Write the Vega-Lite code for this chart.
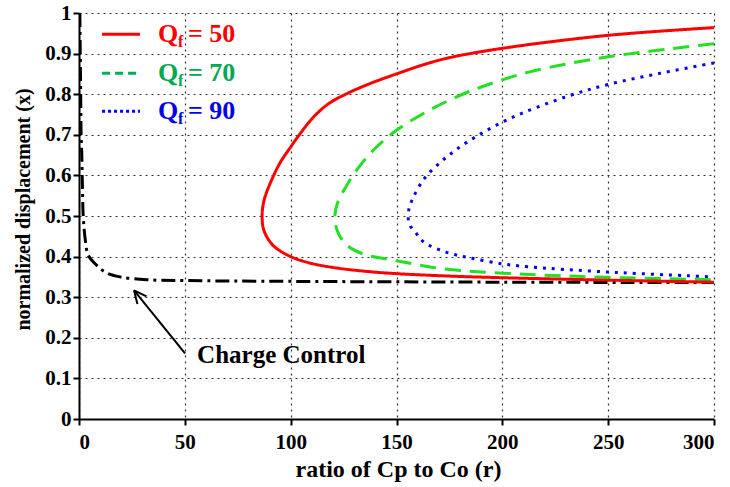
{
  "$schema": "https://vega.github.io/schema/vega-lite/v6.json",
  "autosize": "none",
  "width": 635,
  "height": 406,
  "padding": {"left": 79, "top": 13, "right": 16, "bottom": 68},
  "background": "white",
  "config": {
    "view": {"stroke": null},
    "axis": {
      "labelFont": "Liberation Serif",
      "labelFontWeight": "bold",
      "labelFontSize": 21,
      "labelColor": "black",
      "titleFont": "Liberation Serif",
      "titleFontWeight": "bold",
      "titleColor": "black",
      "domainColor": "black",
      "domainWidth": 2,
      "tickColor": "black",
      "tickWidth": 2,
      "tickSize": 6,
      "gridColor": "#333333",
      "gridDash": [2, 4],
      "gridWidth": 1.2
    }
  },
  "layer": [
    {
      "data": {
        "values": [
          {"s": "CC", "i": 1, "r": 0.4, "x": 1.0},
          {"s": "CC", "i": 2, "r": 0.6, "x": 0.9},
          {"s": "CC", "i": 3, "r": 0.8, "x": 0.8},
          {"s": "CC", "i": 4, "r": 1.0, "x": 0.7},
          {"s": "CC", "i": 5, "r": 1.3, "x": 0.654},
          {"s": "CC", "i": 6, "r": 1.6, "x": 0.58},
          {"s": "CC", "i": 7, "r": 2.0, "x": 0.5},
          {"s": "CC", "i": 8, "r": 3.0, "x": 0.44},
          {"s": "CC", "i": 9, "r": 4.4, "x": 0.403},
          {"s": "CC", "i": 10, "r": 8.3, "x": 0.379},
          {"s": "CC", "i": 11, "r": 13, "x": 0.36},
          {"s": "CC", "i": 12, "r": 19.4, "x": 0.35},
          {"s": "CC", "i": 13, "r": 32, "x": 0.343},
          {"s": "CC", "i": 14, "r": 50, "x": 0.341},
          {"s": "CC", "i": 15, "r": 100, "x": 0.339},
          {"s": "CC", "i": 16, "r": 200, "x": 0.337},
          {"s": "CC", "i": 17, "r": 300, "x": 0.336},

          {"s": "Q90", "i": 1, "r": 300, "x": 0.877},
          {"s": "Q90", "i": 2, "r": 275, "x": 0.852},
          {"s": "Q90", "i": 3, "r": 250, "x": 0.824},
          {"s": "Q90", "i": 4, "r": 232, "x": 0.797},
          {"s": "Q90", "i": 5, "r": 210.6, "x": 0.756},
          {"s": "Q90", "i": 6, "r": 200.3, "x": 0.732},
          {"s": "Q90", "i": 7, "r": 190, "x": 0.703},
          {"s": "Q90", "i": 8, "r": 180.5, "x": 0.672},
          {"s": "Q90", "i": 9, "r": 171.8, "x": 0.637},
          {"s": "Q90", "i": 10, "r": 163.1, "x": 0.592},
          {"s": "Q90", "i": 11, "r": 157.6, "x": 0.542},
          {"s": "Q90", "i": 12, "r": 155.7, "x": 0.512},
          {"s": "Q90", "i": 13, "r": 156, "x": 0.481},
          {"s": "Q90", "i": 14, "r": 159.2, "x": 0.458},
          {"s": "Q90", "i": 15, "r": 163.1, "x": 0.435},
          {"s": "Q90", "i": 16, "r": 173.4, "x": 0.411},
          {"s": "Q90", "i": 17, "r": 184.5, "x": 0.397},
          {"s": "Q90", "i": 18, "r": 200.3, "x": 0.382},
          {"s": "Q90", "i": 19, "r": 212.2, "x": 0.375},
          {"s": "Q90", "i": 20, "r": 250, "x": 0.362},
          {"s": "Q90", "i": 21, "r": 300, "x": 0.35},

          {"s": "Q70", "i": 1, "r": 300, "x": 0.924},
          {"s": "Q70", "i": 2, "r": 250, "x": 0.892},
          {"s": "Q70", "i": 3, "r": 213, "x": 0.855},
          {"s": "Q70", "i": 4, "r": 192.4, "x": 0.822},
          {"s": "Q70", "i": 5, "r": 178.2, "x": 0.793},
          {"s": "Q70", "i": 6, "r": 163.9, "x": 0.756},
          {"s": "Q70", "i": 7, "r": 150, "x": 0.711},
          {"s": "Q70", "i": 8, "r": 140.2, "x": 0.668},
          {"s": "Q70", "i": 9, "r": 132.3, "x": 0.621},
          {"s": "Q70", "i": 10, "r": 126, "x": 0.571},
          {"s": "Q70", "i": 11, "r": 122, "x": 0.53},
          {"s": "Q70", "i": 12, "r": 120.9, "x": 0.5},
          {"s": "Q70", "i": 13, "r": 122, "x": 0.464},
          {"s": "Q70", "i": 14, "r": 126, "x": 0.431},
          {"s": "Q70", "i": 15, "r": 133.9, "x": 0.407},
          {"s": "Q70", "i": 16, "r": 150, "x": 0.39},
          {"s": "Q70", "i": 17, "r": 171.8, "x": 0.37},
          {"s": "Q70", "i": 18, "r": 208.2, "x": 0.357},
          {"s": "Q70", "i": 19, "r": 250, "x": 0.349},
          {"s": "Q70", "i": 20, "r": 300, "x": 0.343},

          {"s": "Q50", "i": 1, "r": 300, "x": 0.964},
          {"s": "Q50", "i": 2, "r": 250, "x": 0.945},
          {"s": "Q50", "i": 3, "r": 200, "x": 0.913},
          {"s": "Q50", "i": 4, "r": 175, "x": 0.89},
          {"s": "Q50", "i": 5, "r": 164.2, "x": 0.875},
          {"s": "Q50", "i": 6, "r": 150, "x": 0.85},
          {"s": "Q50", "i": 7, "r": 137.4, "x": 0.826},
          {"s": "Q50", "i": 8, "r": 126.4, "x": 0.801},
          {"s": "Q50", "i": 9, "r": 118, "x": 0.777},
          {"s": "Q50", "i": 10, "r": 111, "x": 0.745},
          {"s": "Q50", "i": 11, "r": 104.5, "x": 0.703},
          {"s": "Q50", "i": 12, "r": 100, "x": 0.67},
          {"s": "Q50", "i": 13, "r": 95, "x": 0.631},
          {"s": "Q50", "i": 14, "r": 90.2, "x": 0.579},
          {"s": "Q50", "i": 15, "r": 87.4, "x": 0.538},
          {"s": "Q50", "i": 16, "r": 86.5, "x": 0.5},
          {"s": "Q50", "i": 17, "r": 87.4, "x": 0.464},
          {"s": "Q50", "i": 18, "r": 91.8, "x": 0.427},
          {"s": "Q50", "i": 19, "r": 100, "x": 0.4},
          {"s": "Q50", "i": 20, "r": 110, "x": 0.383},
          {"s": "Q50", "i": 21, "r": 123, "x": 0.371},
          {"s": "Q50", "i": 22, "r": 137, "x": 0.363},
          {"s": "Q50", "i": 23, "r": 150, "x": 0.358},
          {"s": "Q50", "i": 24, "r": 175, "x": 0.352},
          {"s": "Q50", "i": 25, "r": 200, "x": 0.348},
          {"s": "Q50", "i": 26, "r": 250, "x": 0.342},
          {"s": "Q50", "i": 27, "r": 300, "x": 0.337}
        ]
      },
      "mark": {"type": "line", "strokeWidth": 3, "clip": true, "interpolate": "catmull-rom"},
      "encoding": {
        "x": {
          "field": "r", "type": "quantitative",
          "scale": {"domain": [0, 300], "nice": false},
          "axis": {"values": [0, 50, 100, 150, 200, 250, 300], "grid": true, "title": "ratio of Cp to Co (r)", "titleFontSize": 24, "titleBaseline": "alphabetic", "titleX": 319, "titleY": 57, "labelPadding": 6}
        },
        "y": {
          "field": "x", "type": "quantitative",
          "scale": {"domain": [0, 1], "nice": false},
          "axis": {"values": [0, 0.1, 0.2, 0.3, 0.4, 0.5, 0.6, 0.7, 0.8, 0.9, 1], "format": ".1~f", "grid": true, "title": "normalized displacement (x)", "titleFontSize": 20, "titleBaseline": "alphabetic", "titleX": -50, "titleY": 196, "labelPadding": 2}
        },
        "detail": {"field": "s"},
        "order": {"field": "i", "type": "quantitative"},
        "color": {
          "field": "s", "type": "nominal", "legend": null,
          "scale": {"domain": ["CC", "Q90", "Q70", "Q50"], "range": ["#000000", "#0000ff", "#22e022", "#ff0000"]}
        },
        "strokeDash": {
          "field": "s", "type": "nominal", "legend": null,
          "scale": {"domain": ["CC", "Q90", "Q70", "Q50"], "range": [[14, 5, 3, 5], [3, 6], [16, 9], [1, 0]]}
        }
      }
    },
    {
      "data": {"values": [{}]},
      "mark": {"type": "rule", "color": "#ff0000", "strokeWidth": 3},
      "encoding": {"x": {"datum": 10.9}, "x2": {"datum": 28.8}, "y": {"datum": 0.9475}}
    },
    {
      "data": {"values": [{}]},
      "mark": {"type": "rule", "color": "#00b050", "strokeWidth": 3, "strokeDash": [8, 5]},
      "encoding": {"x": {"datum": 10.9}, "x2": {"datum": 28.8}, "y": {"datum": 0.8515}}
    },
    {
      "data": {"values": [{}]},
      "mark": {"type": "rule", "color": "#0000ff", "strokeWidth": 3, "strokeDash": [3, 3]},
      "encoding": {"x": {"datum": 10.9}, "x2": {"datum": 28.8}, "y": {"datum": 0.758}}
    },
    {
      "data": {"values": [{"q": "Q", "f": "f", "e": "= 50"}]},
      "encoding": {"y": {"datum": 0.9475}},
      "layer": [
        {"mark": {"type": "text", "align": "left", "baseline": "middle", "font": "Liberation Serif", "fontWeight": "bold", "fontSize": 26, "color": "#ff0000"}, "encoding": {"x": {"datum": 37.3}, "text": {"field": "q"}}},
        {"mark": {"type": "text", "align": "left", "baseline": "middle", "font": "Liberation Serif", "fontWeight": "bold", "fontSize": 16, "dy": 8, "color": "#ff0000"}, "encoding": {"x": {"datum": 46.8}, "text": {"field": "f"}}},
        {"mark": {"type": "text", "align": "left", "baseline": "middle", "font": "Liberation Serif", "fontWeight": "bold", "fontSize": 26, "color": "#ff0000"}, "encoding": {"x": {"datum": 51.5}, "text": {"field": "e"}}}
      ]
    },
    {
      "data": {"values": [{"q": "Q", "f": "f", "e": "= 70"}]},
      "encoding": {"y": {"datum": 0.8515}},
      "layer": [
        {"mark": {"type": "text", "align": "left", "baseline": "middle", "font": "Liberation Serif", "fontWeight": "bold", "fontSize": 26, "color": "#00a850"}, "encoding": {"x": {"datum": 37.3}, "text": {"field": "q"}}},
        {"mark": {"type": "text", "align": "left", "baseline": "middle", "font": "Liberation Serif", "fontWeight": "bold", "fontSize": 16, "dy": 8, "color": "#00a850"}, "encoding": {"x": {"datum": 46.8}, "text": {"field": "f"}}},
        {"mark": {"type": "text", "align": "left", "baseline": "middle", "font": "Liberation Serif", "fontWeight": "bold", "fontSize": 26, "color": "#00a850"}, "encoding": {"x": {"datum": 51.5}, "text": {"field": "e"}}}
      ]
    },
    {
      "data": {"values": [{"q": "Q", "f": "f", "e": "= 90"}]},
      "encoding": {"y": {"datum": 0.758}},
      "layer": [
        {"mark": {"type": "text", "align": "left", "baseline": "middle", "font": "Liberation Serif", "fontWeight": "bold", "fontSize": 26, "color": "#0000ee"}, "encoding": {"x": {"datum": 37.3}, "text": {"field": "q"}}},
        {"mark": {"type": "text", "align": "left", "baseline": "middle", "font": "Liberation Serif", "fontWeight": "bold", "fontSize": 16, "dy": 8, "color": "#0000ee"}, "encoding": {"x": {"datum": 46.8}, "text": {"field": "f"}}},
        {"mark": {"type": "text", "align": "left", "baseline": "middle", "font": "Liberation Serif", "fontWeight": "bold", "fontSize": 26, "color": "#0000ee"}, "encoding": {"x": {"datum": 51.5}, "text": {"field": "e"}}}
      ]
    },
    {
      "data": {"values": [{}]},
      "mark": {"type": "rule", "color": "black", "strokeWidth": 2},
      "encoding": {"x": {"datum": 50.1}, "y": {"datum": 0.1618}, "x2": {"datum": 26.0}, "y2": {"datum": 0.317}}
    },
    {
      "data": {"values": [{}]},
      "mark": {"type": "rule", "color": "black", "strokeWidth": 2},
      "encoding": {"x": {"datum": 26.0}, "y": {"datum": 0.317}, "x2": {"datum": 27.6}, "y2": {"datum": 0.2835}}
    },
    {
      "data": {"values": [{}]},
      "mark": {"type": "rule", "color": "black", "strokeWidth": 2},
      "encoding": {"x": {"datum": 26.0}, "y": {"datum": 0.317}, "x2": {"datum": 31.9}, "y2": {"datum": 0.3022}}
    },
    {
      "data": {"values": [{"t": "Charge Control"}]},
      "mark": {"type": "text", "align": "left", "baseline": "alphabetic", "font": "Liberation Serif", "fontWeight": "bold", "fontSize": 25},
      "encoding": {"x": {"datum": 55.8}, "y": {"datum": 0.138}, "text": {"field": "t"}}
    }
  ]
}
